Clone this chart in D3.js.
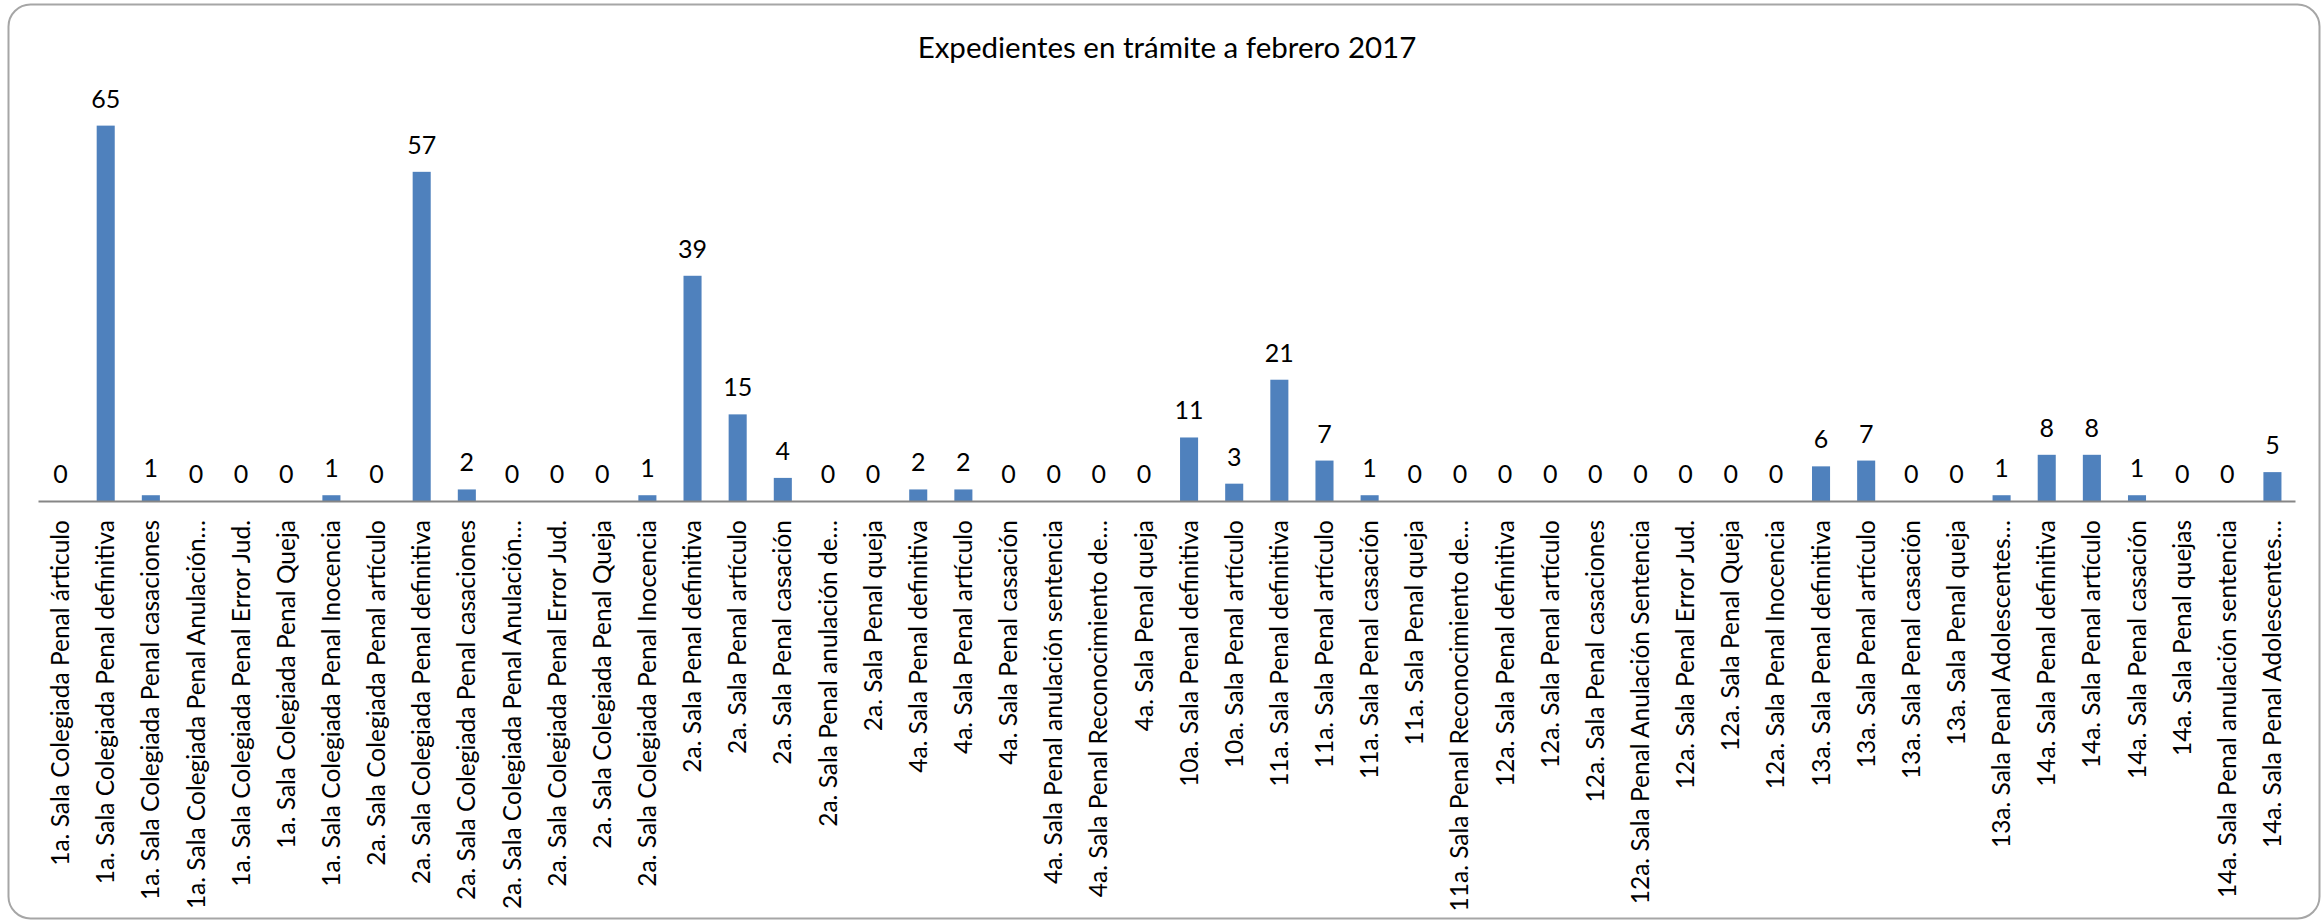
<!DOCTYPE html>
<html>
<head>
<meta charset="utf-8">
<script src="https://cdn.jsdelivr.net/npm/d3@7"></script>
<style>
  body { margin: 0; background: #fff; }
  text { font-family: Lato, "Open Sans", sans-serif; fill: #000; }
</style>
</head>
<body>
<div id="chart"></div>
<script>
const chartTitle = "Expedientes en trámite a febrero 2017";

const categories = [
  "1a. Sala Colegiada Penal árticulo",
  "1a. Sala Colegiada Penal definitiva",
  "1a. Sala Colegiada Penal casaciones",
  "1a. Sala Colegiada Penal Anulación…",
  "1a. Sala Colegiada Penal Error Jud.",
  "1a. Sala Colegiada Penal Queja",
  "1a. Sala Colegiada Penal Inocencia",
  "2a. Sala Colegiada Penal artículo",
  "2a. Sala Colegiada Penal definitiva",
  "2a. Sala Colegiada Penal casaciones",
  "2a. Sala Colegiada Penal Anulación…",
  "2a. Sala Colegiada Penal Error Jud.",
  "2a. Sala Colegiada Penal Queja",
  "2a. Sala Colegiada Penal Inocencia",
  "2a. Sala Penal definitiva",
  "2a. Sala Penal artículo",
  "2a. Sala Penal casación",
  "2a. Sala Penal anulación de…",
  "2a. Sala Penal queja",
  "4a. Sala Penal definitiva",
  "4a. Sala Penal artículo",
  "4a. Sala Penal casación",
  "4a. Sala Penal anulación sentencia",
  "4a. Sala Penal Reconocimiento de…",
  "4a. Sala Penal queja",
  "10a. Sala Penal definitiva",
  "10a. Sala Penal artículo",
  "11a. Sala Penal definitiva",
  "11a. Sala Penal artículo",
  "11a. Sala Penal casación",
  "11a. Sala Penal queja",
  "11a. Sala Penal Reconocimiento de…",
  "12a. Sala Penal definitiva",
  "12a. Sala Penal artículo",
  "12a. Sala Penal casaciones",
  "12a. Sala Penal Anulación Sentencia",
  "12a. Sala Penal Error Jud.",
  "12a. Sala Penal Queja",
  "12a. Sala Penal Inocencia",
  "13a. Sala Penal definitiva",
  "13a. Sala Penal artículo",
  "13a. Sala Penal casación",
  "13a. Sala Penal queja",
  "13a. Sala Penal Adolescentes…",
  "14a. Sala Penal definitiva",
  "14a. Sala Penal artículo",
  "14a. Sala Penal casación",
  "14a. Sala Penal quejas",
  "14a. Sala Penal anulación sentencia",
  "14a. Sala Penal Adolescentes…"
];

const expedientes = [
  0, 65, 1, 0, 0, 0, 1, 0, 57, 2,
  0, 0, 0, 1, 39, 15, 4, 0, 0, 2,
  2, 0, 0, 0, 0, 11, 3, 21, 7, 1,
  0, 0, 0, 0, 0, 0, 0, 0, 0, 6,
  7, 0, 0, 1, 8, 8, 1, 0, 0, 5
];

const yMax = 70;

const W = 2323, H = 922;
const plot = { left: 38, right: 2295, top: 96.75, bottom: 501 };

const data = categories.map((c, i) => ({ i, cat: c, value: expedientes[i] }));

const svg = d3.select("#chart")
  .append("svg")
  .attr("width", W)
  .attr("height", H);

// marco redondeado del gráfico
svg.append("rect")
  .attr("x", 8.5)
  .attr("y", 4.5)
  .attr("width", 2311)
  .attr("height", 914)
  .attr("rx", 22)
  .attr("fill", "#fff")
  .attr("stroke", "#a6a6a6")
  .attr("stroke-width", 2);

svg.append("text")
  .attr("x", 1167)
  .attr("y", 58)
  .attr("text-anchor", "middle")
  .style("font-size", "29.5px")
  .text(chartTitle);

const x = d3.scaleBand()
  .domain(data.map(d => d.i))
  .range([plot.left, plot.right])
  .paddingInner(0.6)
  .paddingOuter(0.3);

const y = d3.scaleLinear()
  .domain([0, yMax])
  .range([plot.bottom, plot.top]);

svg.append("g")
  .selectAll("rect")
  .data(data)
  .join("rect")
  .attr("x", d => x(d.i))
  .attr("y", d => y(d.value))
  .attr("width", x.bandwidth())
  .attr("height", d => y(0) - y(d.value))
  .attr("fill", "#4f81bd");

// etiquetas de datos
svg.append("g")
  .selectAll("text")
  .data(data)
  .join("text")
  .attr("x", d => x(d.i) + x.bandwidth() / 2)
  .attr("y", d => y(d.value) - 18)
  .attr("text-anchor", "middle")
  .style("font-size", "25px")
  .text(d => d.value);

const xAxis = svg.append("g")
  .attr("transform", `translate(0,${plot.bottom})`)
  .call(d3.axisBottom(x).tickSize(0).tickSizeOuter(0).tickFormat(i => categories[i]));

xAxis.select(".domain")
  .attr("stroke", "#868686")
  .attr("stroke-width", 2);

xAxis.selectAll("text")
  .attr("transform", "rotate(-90)")
  .attr("text-anchor", "end")
  .attr("x", -19)
  .attr("y", 0)
  .attr("dy", "0.35em")
  .style("font-family", "Lato, sans-serif")
  .style("font-size", "24.5px")
  .attr("fill", "#000");
</script>
</body>
</html>
